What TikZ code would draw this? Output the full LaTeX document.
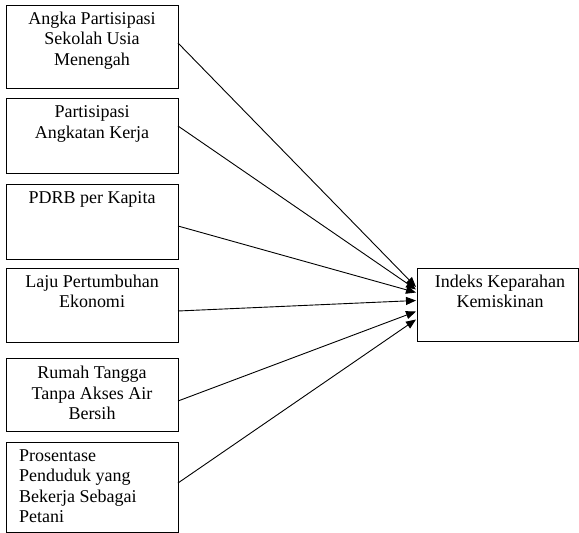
\documentclass[tikz,border=0pt]{standalone}
\usepackage{fontspec}
\setmainfont{Liberation Serif}
\usetikzlibrary{arrows.meta}
\begin{document}
\begin{tikzpicture}[x=1pt,y=-1pt,
  box/.style={draw=black,line width=1pt,inner sep=0pt,outer sep=0pt,minimum width=172pt},
  tbox/.style={draw=black,line width=1pt,inner sep=0pt,outer sep=0pt,minimum width=161pt,minimum height=73pt},
  txt/.style={inner sep=0pt,font=\fontsize{18}{20.5}\selectfont,align=center,anchor=north},
  ltxt/.style={inner sep=0pt,font=\fontsize{18}{20.5}\selectfont,align=left,anchor=north west},
  arr/.style={line width=0.9pt,-{Triangle[length=10pt,width=8pt]}}]
\useasboundingbox (0,0) rectangle (579,533);
% left boxes
\node[box,minimum height=83pt] (b1) at (92,46.5) {};
\node[box,minimum height=75pt] (b2) at (92,135.5) {};
\node[box,minimum height=75pt] (b3) at (92,221.5) {};
\node[box,minimum height=74pt] (b4) at (92,305) {};
\node[box,minimum height=73pt] (b5) at (92,394.5) {};
\node[box,minimum height=90pt] (b6) at (92,487) {};
% target
\node[tbox] (t) at (497.5,304.5) {};
% texts
\node[txt] (l1) at (92,11.5) {Angka Partisipasi\\Sekolah Usia\\Menengah};
\node[txt] (l2) at (92,105.5) {Partisipasi\\Angkatan Kerja};
\node[txt] (l3) at (92,191) {PDRB per Kapita};
\node[txt] (l4) at (92,274.5) {Laju Pertumbuhan\\Ekonomi};
\node[txt] (l5) at (92,366) {Rumah Tangga\\Tanpa Akses Air\\Bersih};
\node[ltxt] (l6) at (19,449.5) {Prosentase\\Penduduk yang\\Bekerja Sebagai\\Petani};
\node[txt] (lt) at (500,274.5) {Indeks Keparahan\\Kemiskinan};
% arrow ends
\coordinate (e1) at (416,287);
\coordinate (e2) at (416,289.5);
\coordinate (e3) at (416,292.5);
\coordinate (e4) at (416,300.5);
\coordinate (e5) at (416,311.5);
\coordinate (e6) at (416,319.5);
\draw[arr] ([yshift=3.5pt]b1.east) -- (e1);
\draw[arr] ([yshift=9.5pt]b2.east) -- (e2);
\draw[arr] ([yshift=-4.5pt]b3.east) -- (e3);
\draw[arr] ([yshift=-6pt]b4.east) -- (e4);
\draw[arr] ([yshift=-6.5pt]b5.east) -- (e5);
\draw[arr] ([yshift=4pt]b6.east) -- (e6);
\end{tikzpicture}
\end{document}
